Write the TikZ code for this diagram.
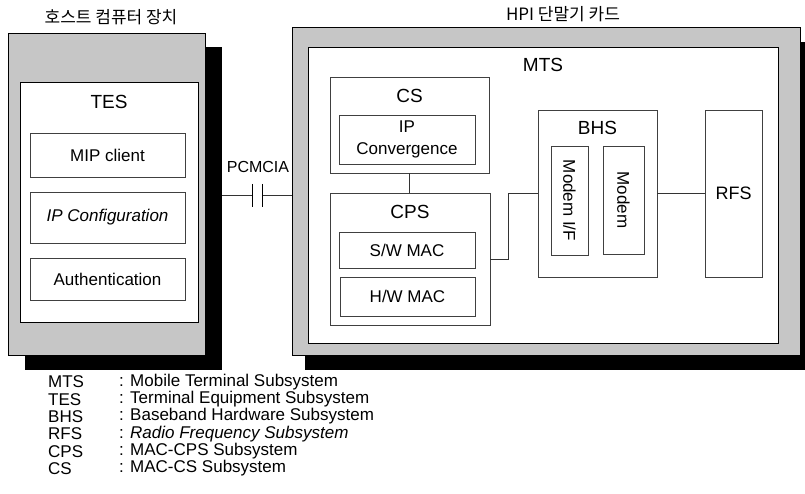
\documentclass[tikz,border=0pt]{standalone}
\usepackage{fontspec}
\setmainfont{Liberation Sans}
\newfontfamily\kor{Noto Sans CJK KR}

\begin{document}
\begin{tikzpicture}[x=1pt, y=-1pt,
		outerbox/.style={draw=black, line width=0.8pt, fill=gray!45, inner sep=0pt},
		pane/.style={draw=black, line width=0.7pt, fill=white, inner sep=0pt},
		unit/.style={draw=black!75, line width=0.7pt, fill=white, inner sep=0pt, align=center, font=\fontsize{17}{22}\selectfont},
		head/.style={font=\fontsize{19}{21}\selectfont, inner sep=0pt},
		caption/.style={font=\kor\fontsize{17}{19}\selectfont, inner sep=0pt},
		abbr/.style={anchor=west, font=\fontsize{17}{19}\selectfont, inner sep=0pt},
		wire/.style={draw=black!80, line width=0.7pt}]
		\useasboundingbox (0,0) rectangle (805,494);

		% host computer on the left, its drop shadow first
		\fill [black] (25,47) rectangle (222,370);
		\node [outerbox, minimum width=197, minimum height=322] (host) at (106.5,194) {};
		\node [caption] (hosttitle) at (111,17) {호스트 컴퓨터 장치};
		\node [pane, minimum width=178, minimum height=240] (tes) at (109,202) {};
		\node [head] (teslbl) at (109,102) {TES};
		\node [unit, minimum width=155, minimum height=44] (mip) at (107.5,155) {MIP client};
		\node [unit, minimum width=155, minimum height=51, font=\fontsize{17}{22}\selectfont\itshape] (ipconf) at (107.5,217.5) {IP Configuration};
		\node [unit, minimum width=155, minimum height=42] (auth) at (107.5,279) {Authentication};

		% HPI card on the right
		\fill [black] (305,42) rectangle (813,370);
		\node [outerbox, minimum width=508, minimum height=328] (card) at (546,191) {};
		\node [caption] (cardtitle) at (563,14) {HPI 단말기 카드};
		\node [pane, minimum width=470, minimum height=296] (mts) at (543,195) {};
		\node [head] (mtslbl) at (543,65) {MTS};

		% CS and CPS
		\node [unit, minimum width=159, minimum height=96] (cs) at (409.5,125) {};
		\node [head] (cslbl) at (409.5,96) {CS};
		\node [unit, minimum width=136, minimum height=49] (ipconv) at (407,139.5) {IP\\Convergence};
		\node [unit, minimum width=160, minimum height=132] (cps) at (410,259) {};
		\node [head] (cpslbl) at (410,212) {CPS};
		\node [unit, minimum width=136, minimum height=36] (swmac) at (407,250) {S/W MAC};
		\node [unit, minimum width=135, minimum height=39] (hwmac) at (407.5,296.5) {H/W MAC};

		% BHS with its two modem parts, and RFS
		\node [unit, minimum width=119, minimum height=167] (bhs) at (597.5,193.5) {};
		\node [head] (bhslbl) at (597.5,128) {BHS};
		\node [unit, rotate=-90, minimum width=109, minimum height=37] (modemif) at (569.5,200.5) {Modem I/F};
		\node [unit, rotate=-90, minimum width=108, minimum height=41] (modem) at (623.5,200) {Modem};
		\node [unit, minimum width=57, minimum height=167, font=\fontsize{18}{20}\selectfont] (rfs) at (733.5,193.5) {RFS};

		\draw [wire] (cs.south) -- (cs.south |- cps.north);
		\draw [wire] (cps.east) -- ++(18,0) |- (bhs.west);
		\draw [wire] (bhs.east) -- (rfs.west);

		% PCMCIA link between host and card
		\node [font=\fontsize{16}{18}\selectfont, inner sep=0pt] (pcmcia) at (258,167) {PCMCIA};
		\coordinate (plug) at (222,195);
		\coordinate (capa) at (252,195);
		\coordinate (capb) at (262,195);
		\draw [wire] (plug) -- (capa);
		\draw [wire] (capb) -- (capb -| card.west);
		\draw [line width=0.9pt] ([yshift=11]capa) -- ([yshift=-12]capa);
		\draw [line width=0.9pt] ([yshift=11]capb) -- ([yshift=-12]capb);

		% legend
		\node [abbr] (kmts) at (48,382) {MTS};
		\node [abbr] (dmts) at (119,382) {: Mobile Terminal Subsystem};
		\node [abbr] (ktes) at (48,399.3) {TES};
		\node [abbr] (dtes) at (119,399.3) {: Terminal Equipment Subsystem};
		\node [abbr] (kbhs) at (48,416.6) {BHS};
		\node [abbr] (dbhs) at (119,416.6) {: Baseband Hardware Subsystem};
		\node [abbr] (krfs) at (48,433.9) {RFS};
		\node [abbr] (drfs) at (119,433.9) {: \textit{Radio Frequency Subsystem}};
		\node [abbr] (kcps) at (48,451.2) {CPS};
		\node [abbr] (dcps) at (119,451.2) {: MAC-CPS Subsystem};
		\node [abbr] (kcs) at (48,468.5) {CS};
		\node [abbr] (dcs) at (119,468.5) {: MAC-CS Subsystem};
	\end{tikzpicture}
\end{document}
